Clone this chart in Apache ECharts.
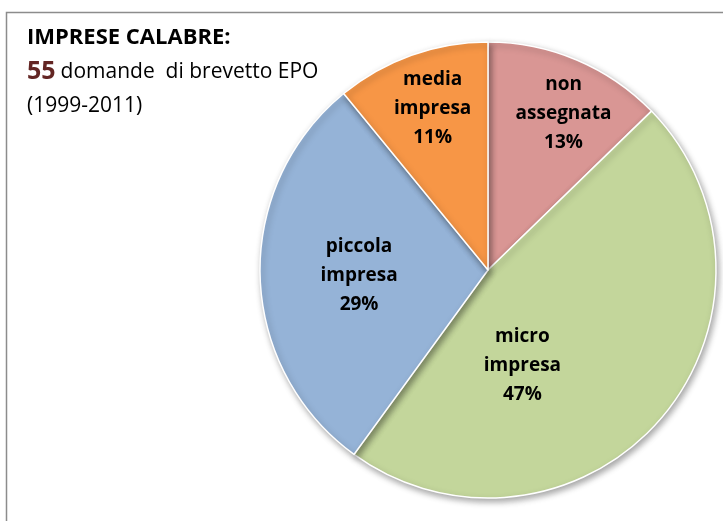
<!DOCTYPE html>
<html>
<head>
    <meta charset="utf-8" />
    <title>Imprese calabre</title>
    <script src="https://cdn.jsdelivr.net/npm/echarts@6/dist/echarts.min.js"></script>
    <style>
        html, body { margin: 0; padding: 0; background: #fff; }
    </style>
</head>
<body>
    <div id="main" style="width: 723px;height:521px;"></div>
<script type="text/javascript">
    // dati: domande di brevetto EPO per classe dimensionale
    var categorie = ['non\nassegnata', 'micro\nimpresa', 'piccola\nimpresa', 'media\nimpresa'];
    var domande = [7, 26, 16, 6];
    var colori = ['#D99694', '#C3D69B', '#95B3D7', '#F79646'];
    // spostamento delle etichette rispetto alla posizione 'inner'
    var spostamenti = [[30, -49], [-54, 19], [-12, 2], [-16, -51]];

    var myChart = echarts.init(document.getElementById('main'));

    var dati = categorie.map(function (c, i) {
        return { name: c, value: domande[i], itemStyle: { color: colori[i] } };
    });

    var option = {
        backgroundColor: '#fff',
        animation: false,
        graphic: [{
            type: 'rect',
            shape: { x: 6.5, y: 12.5, width: 740, height: 540 },
            style: { fill: 'none', stroke: '#8c8c8c', lineWidth: 1.5 },
            z: 0
        }],
        title: {
            left: 22,
            top: 16,
            text: '{t|IMPRESE CALABRE:}\n{n|55} {d|domande  di brevetto EPO}\n{d|(1999-2011)}',
            textStyle: {
                rich: {
                    t: { fontFamily: 'Open Sans', fontWeight: 'bold', fontSize: 22, color: '#000', lineHeight: 34 },
                    n: { fontFamily: 'Open Sans', fontWeight: 'bold', fontSize: 25, color: '#632523', lineHeight: 34 },
                    d: { fontFamily: 'Open Sans', fontWeight: 'normal', fontSize: 21, color: '#000', lineHeight: 34 }
                }
            }
        },
        series: [{
            type: 'pie',
            center: [488, 270],
            radius: 228,
            startAngle: 90,
            clockwise: true,
            data: dati,
            itemStyle: {
                borderColor: '#fff',
                borderWidth: 1.5,
                shadowBlur: 6,
                shadowOffsetX: 2,
                shadowOffsetY: 3,
                shadowColor: 'rgba(0,0,0,0.35)'
            },
            label: {
                position: 'inner',
                formatter: function (p) {
                    return p.name + '\n' + Math.round(p.percent) + '%';
                },
                fontFamily: 'Open Sans',
                fontWeight: 'bold',
                fontSize: 19,
                lineHeight: 29,
                color: '#000',
                align: 'center'
            },
            labelLayout: function (params) {
                var s = spostamenti[params.dataIndex];
                return { dx: s[0], dy: s[1] };
            },
            emphasis: { disabled: true }
        }]
    };

    myChart.setOption(option);
</script>
</body>
</html>
